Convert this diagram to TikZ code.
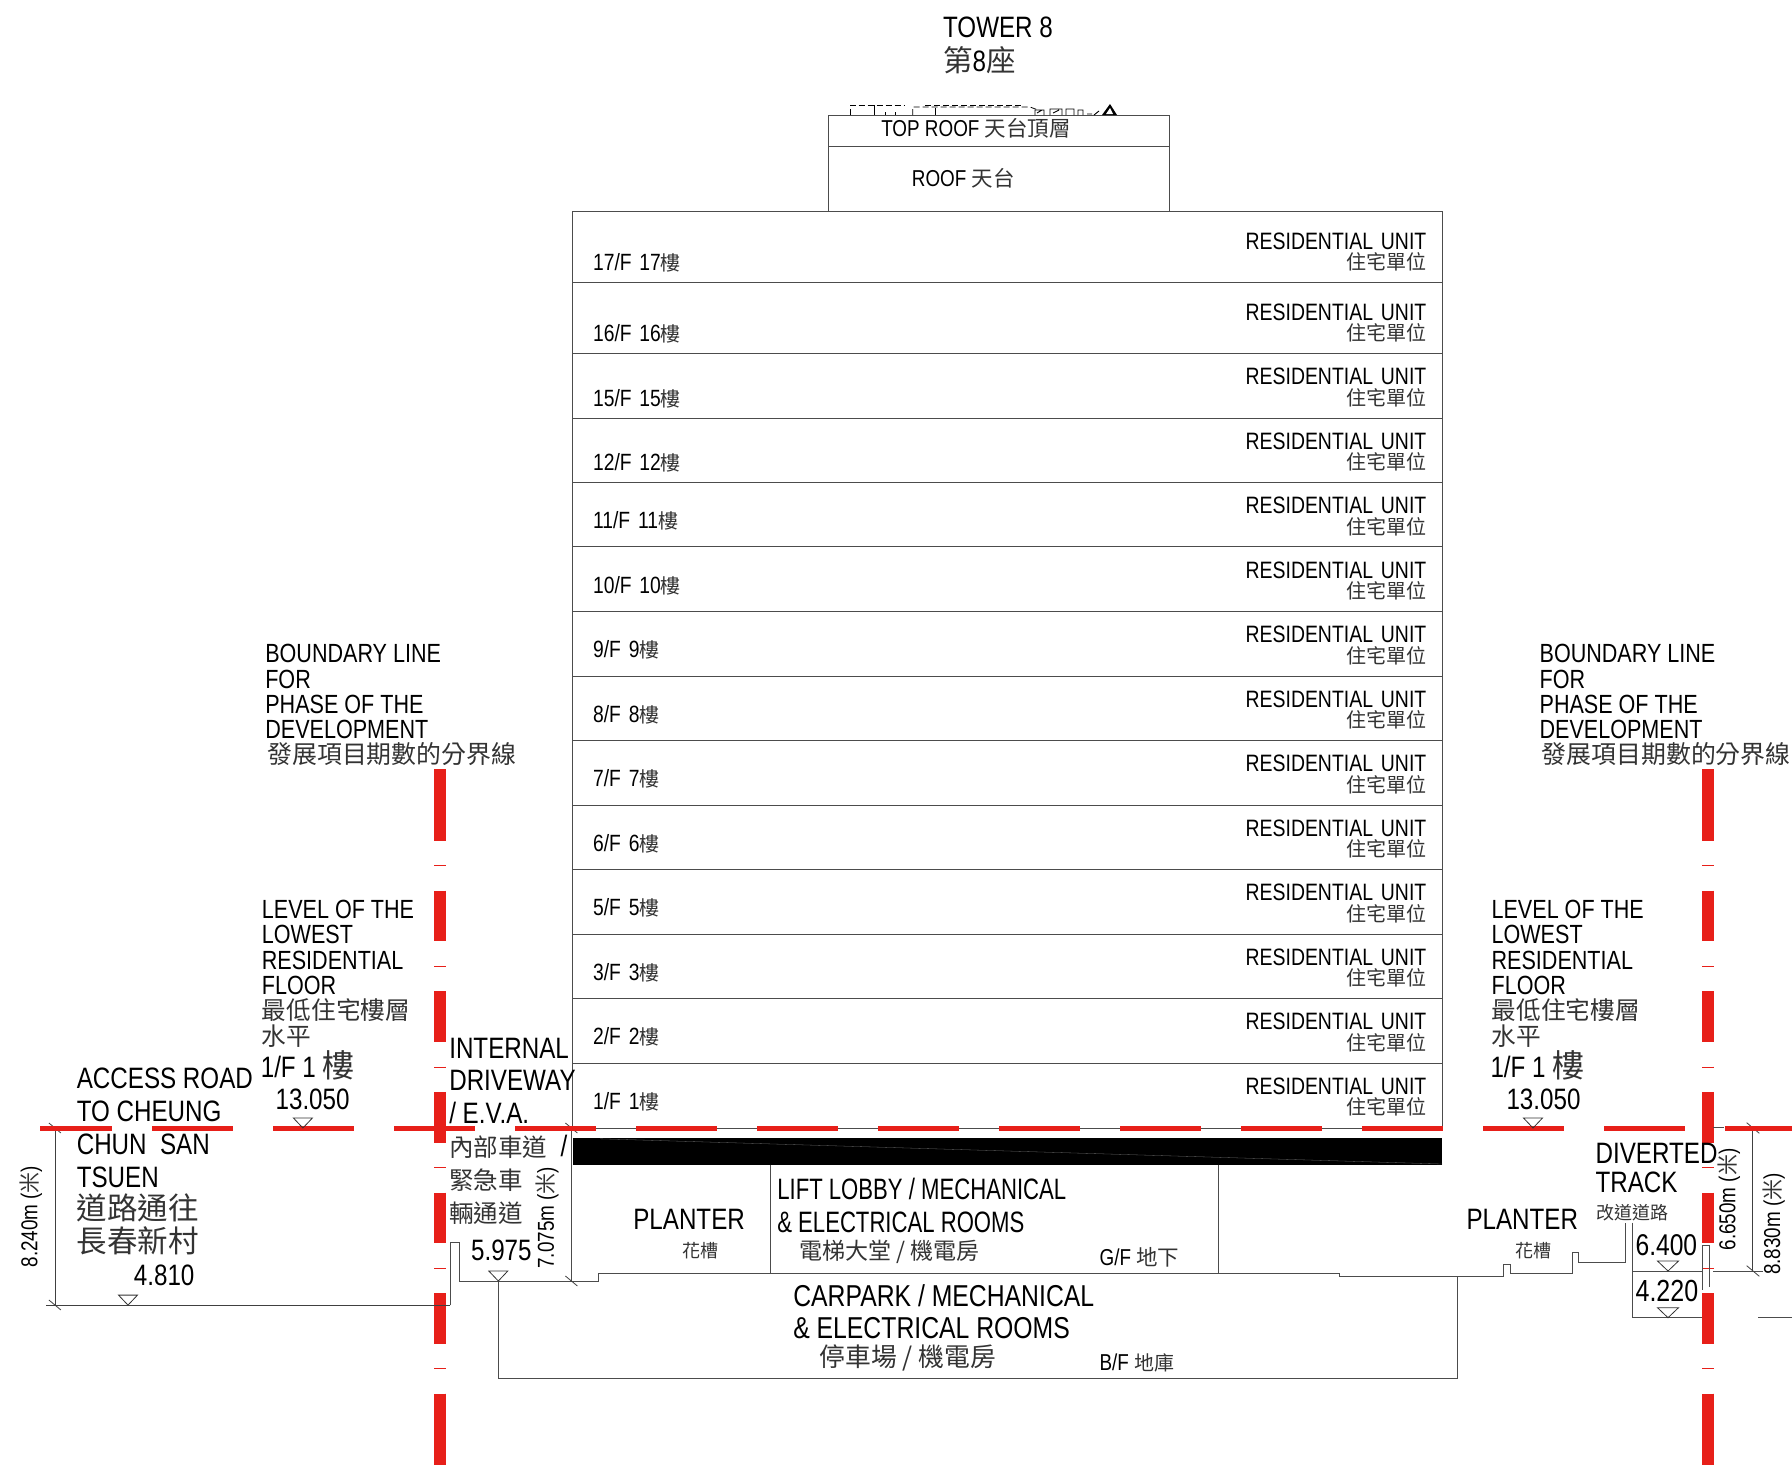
\documentclass[tikz,border=0pt]{standalone}
\usepackage{fontspec}
\setmainfont[FakeStretch=0.82]{Liberation Sans}
\newfontfamily\cjk{Noto Sans CJK TC}
\newfontfamily\narrowlatin[FakeStretch=0.75]{Liberation Sans}
\newcommand{\zh}[2]{{\cjk\fontsize{#1}{#1}\selectfont\color{black!80}#2}}
\lineskiplimit=-50pt
\usepackage{tikz}
\tikzstyle{lblbase} = [anchor=base west,inner sep=0pt]
\tikzstyle{lblbig} = [lblbase,font=\fontsize{29.5}{32.9}\selectfont]
\tikzstyle{lblmid} = [lblbase,font=\fontsize{26.3}{25.3}\selectfont]
\tikzstyle{lblsmall} = [lblbase,font=\fontsize{23}{25}\selectfont]
\tikzstyle{blockbig} = [anchor=north west,inner sep=0pt,align=left,font=\fontsize{29.5}{32.9}\selectfont]
\tikzstyle{blockmid} = [anchor=north west,inner sep=0pt,align=left,font=\fontsize{26.3}{25.3}\selectfont]
\tikzstyle{floortext} = [inner sep=0pt,text width=150pt,align=left,text height=17pt,text depth=0pt,font=\fontsize{23.5}{26}\selectfont]
\tikzstyle{unittext} = [inner sep=0pt,text width=250pt,align=right,font=\fontsize{23.7}{20.4}\selectfont]
\tikzstyle{dimtext} = [inner sep=0pt,rotate=90,font=\fontsize{23}{24}\selectfont]
\tikzstyle{wall} = [draw=black!70,line width=1pt]
\tikzstyle{dimline} = [draw=black!75,line width=0.8pt]
\tikzstyle{levelmark} = [draw=black!80,line width=0.8pt]
\tikzstyle{roofdash} = [draw=black,line width=0.8pt,dash pattern=on 6pt off 3pt]
\tikzstyle{redv} = [draw=redline,line width=12pt]
\tikzstyle{redh} = [draw=redline,line width=5pt]
\definecolor{redline}{HTML}{E71F19}
\begin{document}
\begin{tikzpicture}[x=1pt,y=1pt,node distance=64.5pt]
\useasboundingbox (0,0) rectangle (1792,-1465);

% boundary lines
\draw[redv] (440,-769) -- (440,-790.1);
\draw[redv,dash pattern=on 50.7pt off 49.9pt] (440,-790.1) -- (440,-1393.7);
\draw[redv] (440,-1393.7) -- (440,-1465);
\draw[redv,dash pattern=on 1pt off 99.6pt] (440,-865.4) -- (440,-1393);
\draw[redv] (1708,-769) -- (1708,-790.1);
\draw[redv,dash pattern=on 50.7pt off 49.9pt] (1708,-790.1) -- (1708,-1393.7);
\draw[redv] (1708,-1393.7) -- (1708,-1465);
\draw[redv,dash pattern=on 1pt off 99.6pt] (1708,-865.4) -- (1708,-1393);

% tower
\draw[wall] (828.6,-115.4) rectangle (1169.1,-211.4);
\draw[wall] (828.6,-146.5) -- (1169.1,-146.5);
\draw[wall] (572.6,-211.4) rectangle (1442.3,-1128);
\draw[wall] (572.6,-282.3) -- (1442.3,-282.3);
\draw[wall] (572.6,-353.1) -- (1442.3,-353.1);
\draw[wall] (572.6,-418.3) -- (1442.3,-418.3);
\draw[wall] (572.6,-482.3) -- (1442.3,-482.3);
\draw[wall] (572.6,-546.9) -- (1442.3,-546.9);
\draw[wall] (572.6,-611.4) -- (1442.3,-611.4);
\draw[wall] (572.6,-676) -- (1442.3,-676);
\draw[wall] (572.6,-740.6) -- (1442.3,-740.6);
\draw[wall] (572.6,-805.1) -- (1442.3,-805.1);
\draw[wall] (572.6,-869.7) -- (1442.3,-869.7);
\draw[wall] (572.6,-934.3) -- (1442.3,-934.3);
\draw[wall] (572.6,-998.9) -- (1442.3,-998.9);
\draw[wall] (572.6,-1063.4) -- (1442.3,-1063.4);

% roof top clutter
\draw[roofdash] (850.7,-115) -- (850.7,-105) -- (905,-105);
\draw[black,line width=0.8pt] (874,-105) -- (874,-115);
\draw[black,line width=0.8pt] (885,-112) -- (885,-115) (895,-112) -- (895,-115);
\draw[roofdash] (912.7,-115) -- (912.7,-107) -- (1030,-107) -- (1038,-110);
\draw[roofdash] (925,-105) -- (1022,-105);
\draw[black,line width=0.8pt] (935,-115) -- (935,-108);
\draw[black,line width=0.9pt] (1035,-115) -- (1035,-110) -- (1044,-110) -- (1044,-115) (1037,-113) -- (1042,-110) (1050,-115) -- (1050,-109) -- (1062,-109) -- (1062,-115) (1053,-113) -- (1059,-110) (1066,-115) -- (1066,-109) -- (1074,-109) -- (1074,-115) (1078,-115) -- (1078,-110) -- (1083,-110) -- (1083,-115) (1087,-114) -- (1092,-114) (1094,-115) -- (1099,-111);
\fill[black] (1102,-115) -- (1110,-104) -- (1117,-115) -- cycle;
\fill[white] (1106,-114) -- (1110,-108) -- (1113,-114) -- cycle;

% black slab
\fill[black] (572.6,-1138.3) rectangle (1442.3,-1164.6);
\draw[black!60,line width=0.3pt] (600,-1138.8) -- (1442.3,-1164);

% ground level
\draw[wall] (571.4,-1128) -- (571.4,-1281);
\draw[wall] (770.3,-1164.6) -- (770.3,-1273);
\draw[wall] (1218.3,-1164.6) -- (1218.3,-1273);
\draw[wall] (450.3,-1305.1) -- (450.3,-1242.3) -- (459.4,-1242.3) -- (459.4,-1281) -- (598.9,-1281) -- (598.9,-1273) -- (1339.4,-1273) -- (1339.4,-1276.7) -- (1503.3,-1276.7) -- (1503.3,-1264) -- (1510,-1264) -- (1510,-1273.3) -- (1572.3,-1273.3) -- (1572.3,-1252.7) -- (1578.3,-1252.7) -- (1578.3,-1262.3) -- (1625.7,-1262.3) -- (1625.7,-1222.7);
\draw[wall] (498.3,-1281) -- (498.3,-1378.3) -- (1457.7,-1378.3) -- (1457.7,-1276.7);
\draw[dimline] (450.3,-1305.1) -- (45.7,-1305.1);
\draw[wall] (1632.3,-1222.7) -- (1632.3,-1317.7) -- (1702,-1317.7);
\draw[wall] (1632.3,-1271) -- (1702,-1271);
\draw[wall] (1702,-1245) -- (1709.3,-1245) -- (1709.3,-1286.7);
\draw[wall] (1702,-1245) -- (1702,-1290);
\draw[wall] (1713,-1271) -- (1763,-1271);
\draw[wall] (1713,-1127.7) -- (1724,-1127.7);
\draw[wall] (1758,-1317.7) -- (1792,-1317.7);

% dimension lines
\draw[dimline] (54.9,-1128) -- (54.9,-1305.1);
\draw[dimline] (48.9,-1123) -- (60.9,-1133);
\draw[dimline] (48.9,-1300) -- (60.9,-1310);
\draw[dimline] (565.4,-1123) -- (577.4,-1133);
\draw[dimline] (565.4,-1276) -- (577.4,-1286);
\draw[dimline] (1752.7,-1127.7) -- (1752.7,-1271);
\draw[dimline] (1746.7,-1122.7) -- (1759.3,-1133.3);
\draw[dimline] (1746.7,-1265.7) -- (1759.3,-1276.3);

% level line
\draw[wall] (572.6,-1128) -- (1442.3,-1128);
\draw[redh,dash pattern=on 81pt off 40pt,dash phase=9pt] (40,-1128) -- (1792,-1128);

% level marks
\draw[levelmark] (302.9,-1128) -- ++(-9.5,10) -- ++(19,0) -- cycle;
\draw[levelmark] (128,-1305.1) -- ++(-9.5,10) -- ++(19,0) -- cycle;
\draw[levelmark] (498.3,-1281) -- ++(-9.5,10) -- ++(19,0) -- cycle;
\draw[levelmark] (1533,-1128) -- ++(-9.5,10) -- ++(19,0) -- cycle;
\draw[levelmark] (1668,-1271) -- ++(-10.5,10) -- ++(21,0) -- cycle;
\draw[levelmark] (1668,-1317.7) -- ++(-10.5,10) -- ++(21,0) -- cycle;

\node (tower)   [lblbig,xshift=942.9pt,yshift=-37.7pt] {TOWER 8};
\node (towerzh) [lblbig,xshift=942.9pt,yshift=-71pt] {\zh{29.5}{第}8\zh{29.5}{座}};
\node (toproof) [lblsmall,xshift=881.1pt,yshift=-136.7pt] {TOP ROOF \zh{21.5}{天台頂層}};
\node (roof)    [lblsmall,xshift=911.7pt,yshift=-186.7pt] {ROOF \zh{21.5}{天台}};

\node (f17) [floortext,xshift=668.1pt,yshift=-262.2pt] {17/F 17\zh{20}{樓}};
\node (f16) [floortext,below of=f17,yshift=-6.4pt] {16/F 16\zh{20}{樓}};
\node (f15) [floortext,below of=f16] {15/F 15\zh{20}{樓}};
\node (f12) [floortext,below of=f15] {12/F 12\zh{20}{樓}};
\node (f11) [floortext,below of=f12,yshift=6.2pt] {11/F 11\zh{20}{樓}};
\node (f10) [floortext,below of=f11] {10/F 10\zh{20}{樓}};
\node (f9)  [floortext,below of=f10] {9/F 9\zh{20}{樓}};
\node (f8)  [floortext,below of=f9] {8/F 8\zh{20}{樓}};
\node (f7)  [floortext,below of=f8] {7/F 7\zh{20}{樓}};
\node (f6)  [floortext,below of=f7] {6/F 6\zh{20}{樓}};
\node (f5)  [floortext,below of=f6] {5/F 5\zh{20}{樓}};
\node (f3)  [floortext,below of=f5] {3/F 3\zh{20}{樓}};
\node (f2)  [floortext,below of=f3] {2/F 2\zh{20}{樓}};
\node (f1)  [floortext,below of=f2] {1/F 1\zh{20}{樓}};

\node (u17) [unittext,xshift=1301.3pt,yshift=-252.2pt] {RESIDENTIAL UNIT\\\zh{20}{住宅單位}};
\node (u16) [unittext,below of=u17,yshift=-6.4pt] {RESIDENTIAL UNIT\\\zh{20}{住宅單位}};
\node (u15) [unittext,below of=u16] {RESIDENTIAL UNIT\\\zh{20}{住宅單位}};
\node (u12) [unittext,below of=u15] {RESIDENTIAL UNIT\\\zh{20}{住宅單位}};
\node (u11) [unittext,below of=u12] {RESIDENTIAL UNIT\\\zh{20}{住宅單位}};
\node (u10) [unittext,below of=u11] {RESIDENTIAL UNIT\\\zh{20}{住宅單位}};
\node (u9)  [unittext,below of=u10] {RESIDENTIAL UNIT\\\zh{20}{住宅單位}};
\node (u8)  [unittext,below of=u9] {RESIDENTIAL UNIT\\\zh{20}{住宅單位}};
\node (u7)  [unittext,below of=u8] {RESIDENTIAL UNIT\\\zh{20}{住宅單位}};
\node (u6)  [unittext,below of=u7] {RESIDENTIAL UNIT\\\zh{20}{住宅單位}};
\node (u5)  [unittext,below of=u6] {RESIDENTIAL UNIT\\\zh{20}{住宅單位}};
\node (u3)  [unittext,below of=u5] {RESIDENTIAL UNIT\\\zh{20}{住宅單位}};
\node (u2)  [unittext,below of=u3] {RESIDENTIAL UNIT\\\zh{20}{住宅單位}};
\node (u1)  [unittext,below of=u2] {RESIDENTIAL UNIT\\\zh{20}{住宅單位}};

\node (bndl) [blockmid,xshift=265.1pt,yshift=-644.2pt] {BOUNDARY LINE\\FOR\\PHASE OF THE\\DEVELOPMENT\\\hspace*{2pt}\zh{24.9}{發展項目期數的分界線}};
\node (bndr) [blockmid,xshift=1539.4pt,yshift=-644.2pt] {BOUNDARY LINE\\FOR\\PHASE OF THE\\DEVELOPMENT\\\hspace*{2pt}\zh{24.9}{發展項目期數的分界線}};
\node (lvll) [blockmid,xshift=261.7pt,yshift=-900pt] {LEVEL OF THE\\LOWEST\\RESIDENTIAL\\FLOOR\\\zh{24.7}{最低住宅樓層}\\\zh{24.7}{水平}};
\node (lvlr) [blockmid,xshift=1491.4pt,yshift=-900pt] {LEVEL OF THE\\LOWEST\\RESIDENTIAL\\FLOOR\\\zh{24.7}{最低住宅樓層}\\\zh{24.7}{水平}};

\node (firstl)  [lblbig,xshift=260.6pt,yshift=-1077.7pt] {1/F 1 \zh{32}{樓}};
\node (levell)  [lblbig,xshift=275.4pt,yshift=-1109.7pt] {13.050};
\node (firstr)  [lblbig,xshift=1490.3pt,yshift=-1077.7pt] {1/F 1 \zh{32}{樓}};
\node (levelr)  [lblbig,xshift=1506.3pt,yshift=-1109.7pt] {13.050};

\node (access) [blockbig,xshift=76.6pt,yshift=-1067.5pt] {ACCESS ROAD\\TO CHEUNG\\CHUN\ \ SAN\\TSUEN\\\zh{30.5}{道路通往}\\\zh{30.5}{長春新村}};
\node (lvlroad) [lblbig,xshift=133.7pt,yshift=-1285.7pt] {4.810};

\node (drive) [blockbig,xshift=449.1pt,yshift=-1037.5pt] {INTERNAL\\DRIVEWAY\\/ E.V.A.\\\zh{24.5}{內部車道} \ /\\\zh{24.5}{緊急車}\\\zh{24.5}{輛通道}};
\node (lvldrive) [lblbig,xshift=470.9pt,yshift=-1260.7pt] {5.975};

\node (plantl)   [lblbig,xshift=633.1pt,yshift=-1229pt] {PLANTER};
\node (plantlzh) [lblbase,xshift=682.3pt,yshift=-1257pt] {\zh{18}{花槽}};
\node (lift)     [blockmid,xshift=777.1pt,yshift=-1177.5pt,font=\narrowlatin\fontsize{29.5}{33}\selectfont] {LIFT LOBBY / MECHANICAL\\\& ELECTRICAL ROOMS};
\node (liftzh)   [lblbase,xshift=798.9pt,yshift=-1259.4pt] {\zh{23}{電梯大堂 / 機電房}};
\node (gf)       [lblbase,xshift=1099.4pt,yshift=-1265pt,font=\fontsize{23}{24}\selectfont] {G/F \zh{21.5}{地下}};
\node (carpark)  [blockmid,xshift=793.1pt,yshift=-1284.6pt,font=\fontsize{30.2}{32}\selectfont] {CARPARK / MECHANICAL\\\& ELECTRICAL ROOMS};
\node (carzh)    [lblbase,xshift=819.4pt,yshift=-1366.9pt] {\zh{25.8}{停車場 / 機電房}};
\node (bf)       [lblbase,xshift=1099.4pt,yshift=-1370pt,font=\fontsize{23}{24}\selectfont] {B/F \zh{20}{地庫}};

\node (plantr)   [lblbig,xshift=1466.3pt,yshift=-1229pt] {PLANTER};
\node (plantrzh) [lblbase,xshift=1515.4pt,yshift=-1257pt] {\zh{18}{花槽}};
\node (divert)   [lblbig,xshift=1595.4pt,yshift=-1163.3pt] {DIVERTED};
\node (track)    [lblbig,xshift=1595.4pt,yshift=-1192.3pt] {TRACK};
\node (divzh)    [lblbase,xshift=1596pt,yshift=-1219.7pt] {\zh{18}{改道道路}};
\node (lvlupper) [lblbig,xshift=1635.4pt,yshift=-1255pt,font=\fontsize{30}{32}\selectfont] {6.400};
\node (lvllower) [lblbig,xshift=1635.4pt,yshift=-1301.7pt,font=\fontsize{30.5}{32}\selectfont] {4.220};

\node (diml) [xshift=30.9pt,yshift=-1216.6pt,dimtext] {8.240m (\zh{21}{米})};
\node (dimd) [xshift=547.4pt,yshift=-1217.7pt,dimtext] {7.075m (\zh{21}{米})};
\node (dimt) [xshift=1729pt,yshift=-1199.4pt,dimtext] {6.650m (\zh{21}{米})};
\node (dimr) [xshift=1773.7pt,yshift=-1224pt,dimtext] {8.830m (\zh{21}{米})};

\end{tikzpicture}
\end{document}
